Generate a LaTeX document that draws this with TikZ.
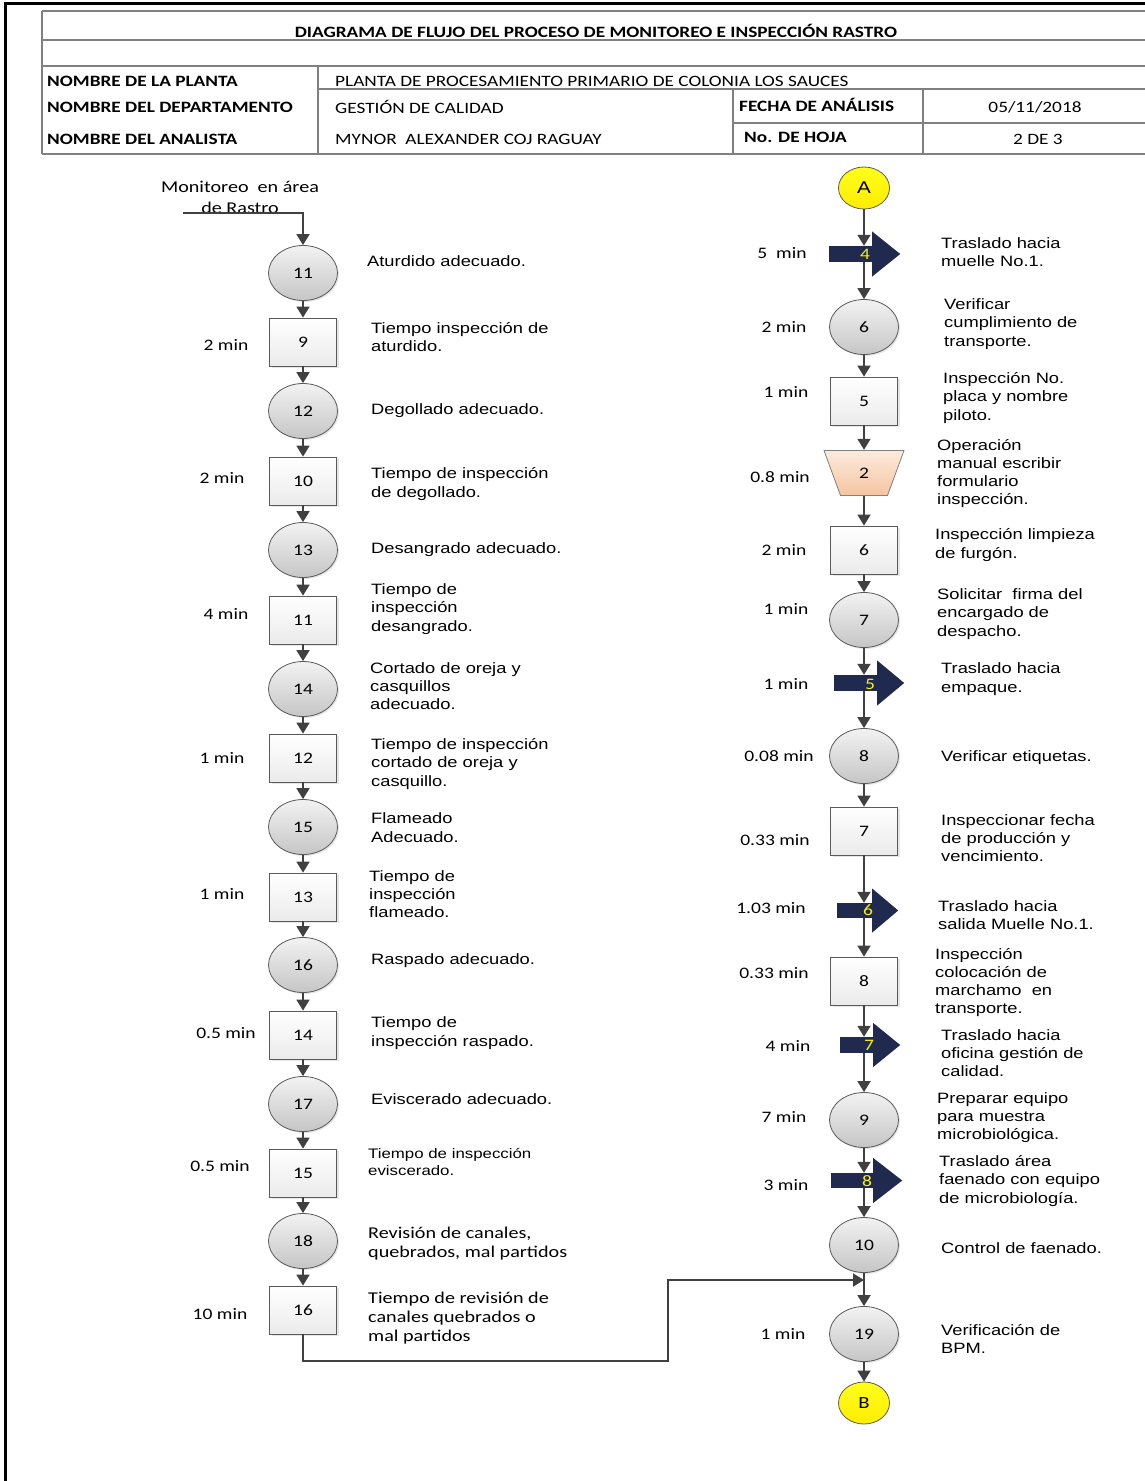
\documentclass[tikz,border=0pt]{standalone}
\usepackage{fontspec}
\usetikzlibrary{shapes.geometric,arrows.meta,shadows}
\newfontfamily\arialx[FakeStretch=1.22]{Liberation Sans}
\newfontfamily\calx[FakeStretch=1.22]{Carlito}
\definecolor{lineg}{HTML}{404040}
\definecolor{edgeg}{HTML}{5A5A5A}
\definecolor{navyb}{HTML}{1F2A4E}
\definecolor{tblg}{HTML}{808080}
\definecolor{peachT}{HTML}{FDEBDD}
\definecolor{peachB}{HTML}{F4C4A0}
% head of a block arrow fixed to the east side of its shaft node
\newcommand{\blockhead}[3]{\fill[navyb] (#1.east) ++(0,-#3) -- ++(#2,#3) -- ++(-#2,#3) -- cycle;}
\tikzset{
  flow/.style={draw=lineg, line width=1.8pt, -{Triangle[width=13pt,length=11pt]}},
  opcirc/.style={ellipse, draw=edgeg, line width=0.8pt, minimum width=69pt, minimum height=55pt,
    top color=gray!10, bottom color=gray!45, inner sep=0pt, font=\calx\fontsize{16}{18}\selectfont,
    drop shadow={shadow xshift=1.5pt, shadow yshift=-1.5pt, opacity=0.2}},
  inbox/.style={rectangle, draw=edgeg, line width=0.8pt, minimum width=67pt, minimum height=48pt,
    top color=white, bottom color=gray!16, inner sep=0pt, font=\calx\fontsize{16}{18}\selectfont,
    drop shadow={shadow xshift=2pt, shadow yshift=-2pt, opacity=0.2}},
  % manual operation: inverted trapezoid drawn inside a rectangular node
  manop/.style={rectangle, minimum width=81pt, minimum height=46pt, inner sep=0pt,
    font=\calx\fontsize{16}{18}\selectfont,
    path picture={\shade[top color=peachT, bottom color=peachB, draw=tblg, line width=0.8pt]
      ([xshift=0.5pt,yshift=-0.5pt]path picture bounding box.north west)
      -- ([xshift=-0.5pt,yshift=-0.5pt]path picture bounding box.north east)
      -- ([xshift=-17pt,yshift=0.5pt]path picture bounding box.south east)
      -- ([xshift=17pt,yshift=0.5pt]path picture bounding box.south west) -- cycle;}},
  conn/.style={ellipse, draw=edgeg, line width=0.8pt, minimum width=51pt, minimum height=42pt,
    top color=yellow!90!white, bottom color=yellow!85!orange, inner sep=0pt,
    font=\arialx\fontsize{17}{18}\selectfont},
  shaft/.style={rectangle, fill=navyb, inner sep=0pt, minimum height=16pt},
  tnum/.style={text=yellow, inner sep=0pt, font=\calx\fontsize{16}{16}\selectfont},
  desc/.style={anchor=west, align=left, inner sep=0pt, font=\arialx\fontsize{15}{18.3}\selectfont},
  descc/.style={anchor=west, align=left, inner sep=0pt, font=\calx\fontsize{16.5}{18.8}\selectfont},
  tmin/.style={inner sep=0pt, font=\calx\fontsize{16}{18}\selectfont},
  tline/.style={draw=tblg, line width=1.3pt},
  hlab/.style={anchor=west, inner sep=0pt, font=\calx\bfseries\fontsize{15.8}{17}\selectfont},
  hval/.style={inner sep=0pt, font=\calx\fontsize{15.8}{17}\selectfont},
}
\begin{document}
\begin{tikzpicture}[x=1pt,y=-1pt]
\useasboundingbox (0,0) rectangle (1145,1481);
% page frame
\draw[line width=3pt] (5,1481) -- (5,3) -- (1146,3);

% ---------- header table ----------
\draw[tline] (42,11) -- (1150,11);
\draw[tline] (42,40) -- (1150,40);
\draw[tline] (42,66) -- (1150,66);
\draw[tline] (318,89) -- (1150,89);
\draw[tline] (733,123) -- (1150,123);
\draw[tline] (42,154) -- (1150,154);
\draw[tline] (42,11) -- (42,154);
\draw[tline] (318,66) -- (318,154);
\draw[tline] (733,89) -- (733,154);
\draw[tline] (923,89) -- (923,154);
\node[hval, font=\calx\bfseries\fontsize{15.8}{17}\selectfont] (title) at (596,31) {DIAGRAMA DE FLUJO DEL PROCESO DE MONITOREO E INSPECCIÓN RASTRO};
\node[hlab] (h1) at (47,81) {NOMBRE DE LA PLANTA};
\node[hlab] (h2) at (47,107) {NOMBRE DEL DEPARTAMENTO};
\node[hlab] (h3) at (47,139) {NOMBRE DEL ANALISTA};
\node[hval, anchor=west] (v1) at (335,81) {PLANTA DE PROCESAMIENTO PRIMARIO DE COLONIA LOS SAUCES};
\node[hval, anchor=west] (v2) at (335,107) {GESTIÓN DE CALIDAD};
\node[hval, anchor=west] (v3) at (335,139) {MYNOR\ \ ALEXANDER COJ RAGUAY};
\node[hlab] (h4) at (739,105) {FECHA DE ANÁLISIS};
\node[hlab] (h5) at (744,137) {No. DE HOJA};
\node[hval] (v4) at (1035,107) {05/11/2018};
\node[hval] (v5) at (1038,139) {2 DE 3};

% ---------- left column ----------
\node[align=center, inner sep=0pt, font=\calx\fontsize{16.5}{21}\selectfont] (mon) at (240,197) {Monitoreo\ \ en área\\de Rastro};
\coordinate (st) at (183,213);
\node[opcirc] (c11) at (303,273) {11};
\node[inbox]  (b9)  at (303,342) {9};
\node[opcirc] (c12) at (303,411) {12};
\node[inbox]  (b10) at (303,481) {10};
\node[opcirc] (c13) at (303,550) {13};
\node[inbox]  (b11) at (303,620) {11};
\node[opcirc] (c14) at (303,689) {14};
\node[inbox]  (b12) at (303,758) {12};
\node[opcirc] (c15) at (303,827) {15};
\node[inbox]  (b13) at (303,897) {13};
\node[opcirc] (c16) at (303,965) {16};
\node[inbox]  (b14) at (303,1035) {14};
\node[opcirc] (c17) at (303,1104) {17};
\node[inbox]  (b15) at (303,1173) {15};
\node[opcirc] (c18) at (303,1241) {18};
\node[inbox]  (b16) at (303,1310) {16};

\draw[flow] (st) -| (c11.north);
\foreach \a/\b in {c11/b9,b9/c12,c12/b10,b10/c13,c13/b11,b11/c14,c14/b12,b12/c15,c15/b13,b13/c16,c16/b14,b14/c17,c17/b15,b15/c18,c18/b16}
  \draw[flow] (\a.south) -- (\b.north);

\node[tmin] (m9)  at (226,345) {2 min};
\node[tmin] (m10) at (222,478) {2 min};
\node[tmin] (m11) at (226,614) {4 min};
\node[tmin] (m12) at (222,758) {1 min};
\node[tmin] (m13) at (222,894) {1 min};
\node[tmin] (m14) at (226,1033) {0.5 min};
\node[tmin] (m15) at (220,1166) {0.5 min};
\node[tmin] (m16) at (220,1314) {10 min};

\node[desc] (d1)  at (367,261) {Aturdido adecuado.};
\node[desc] (d2)  at (371,337) {Tiempo inspección de\\aturdido.};
\node[desc] (d3)  at (371,411) {Degollado adecuado.};
\node[desc] (d4)  at (371,484) {Tiempo de inspección\\de degollado.};
\node[desc] (d5)  at (371,550) {Desangrado adecuado.};
\node[desc] (d6)  at (371,609) {Tiempo de\\inspección\\desangrado.};
\node[desc] (d7)  at (370,686) {Cortado de oreja y\\casquillos\\adecuado.};
\node[desc] (d8)  at (371,764) {Tiempo de inspección\\cortado de oreja y\\casquillo.};
\node[desc] (d9)  at (371,827.5) {Flameado\\Adecuado.};
\node[desc] (d10) at (369,894) {Tiempo de\\inspección\\flameado.};
\node[desc] (d11) at (371,961) {Raspado adecuado.};
\node[desc] (d12) at (371,1033) {Tiempo de\\inspección raspado.};
\node[desc] (d13) at (371,1099) {Eviscerado adecuado.};
\node[desc, font=\arialx\fontsize{13.8}{17}\selectfont] (d14) at (368,1162) {Tiempo de inspección\\eviscerado.};
\node[descc] (d15) at (368,1243.5) {Revisión de canales,\\quebrados, mal partidos};
\node[descc] (d16) at (368,1318) {Tiempo de revisión de\\canales quebrados o\\mal partidos};

% ---------- right column ----------
\node[conn] (A) at (864,188) {A};
\node[shaft, minimum width=43pt] (t4) at (850.5,254) {};
\blockhead{t4}{28}{22.5}
\node[tnum] (t4n) at (865,254) {4};
\node[opcirc] (r6)  at (864,327) {6};
\node[inbox]  (rb5) at (864,401) {5};
\node[manop]  (o2)  at (864,473) {2};
\node[inbox]  (rb6) at (864,550) {6};
\node[opcirc] (r7)  at (864,620) {7};
\node[shaft, minimum width=43pt] (t5) at (855.5,683) {};
\blockhead{t5}{27}{22.5}
\node[tnum] (t5n) at (870,684) {5};
\node[opcirc] (r8)  at (864,756) {8};
\node[inbox]  (rb7) at (864,831) {7};
\node[shaft, minimum width=35pt, minimum height=15pt] (t6) at (854.5,910.5) {};
\blockhead{t6}{26}{22}
\node[tnum] (t6n) at (868,910) {6};
\node[inbox]  (rb8) at (864,981) {8};
\node[shaft, minimum width=33pt] (t7) at (856.5,1045) {};
\blockhead{t7}{27}{22}
\node[tnum] (t7n) at (869,1045) {7};
\node[opcirc] (r9)  at (864,1120) {9};
\node[shaft, minimum width=42pt, minimum height=15pt] (t8) at (852,1180.5) {};
\blockhead{t8}{29}{22.5}
\node[tnum] (t8n) at (867,1181) {8};
\node[opcirc] (r10) at (864,1245) {10};
\node[opcirc] (r19) at (864,1334) {19};
\node[conn, font=\calx\fontsize{17}{18}\selectfont] (B) at (864,1403) {B};

\draw[flow] (A.south) -- (A.south |- t4.north);
\draw[flow] (t4.south -| r6.north) -- (r6.north);
\draw[flow] (r6.south) -- (rb5.north);
\draw[flow] (rb5.south) -- (o2.north);
\draw[flow] (o2.south) -- (rb6.north);
\draw[flow] (rb6.south) -- (r7.north);
\draw[flow] (r7.south) -- (r7.south |- t5.north);
\draw[flow] (t5.south -| r8.north) -- (r8.north);
\draw[flow] (r8.south) -- (rb7.north);
\draw[flow] (rb7.south) -- (rb7.south |- t6.north);
\draw[flow] (t6.south -| rb8.north) -- (rb8.north);
\draw[flow] (rb8.south) -- (rb8.south |- t7.north);
\draw[flow] (t7.south -| r9.north) -- (r9.north);
\draw[flow] (r9.south) -- (r9.south |- t8.north);
\draw[flow] (t8.south -| r10.north) -- (r10.north);
\draw[flow] (r10.south) -- (r19.north);
\draw[flow] (r19.south) -- (B.north);

% return path from the last inspection of the left column
\coordinate (k1) at (668,1361);
\coordinate (jn) at (864,1280);
\draw[flow] (b16.south) |- (k1) |- (jn);

\node[tmin] (n4)  at (782,253) {5\ \ min};
\node[tmin] (n6)  at (784,327) {2 min};
\node[tmin] (n5)  at (786,392) {1 min};
\node[tmin] (n2)  at (780,477) {0.8 min};
\node[tmin] (n6b) at (784,550) {2 min};
\node[tmin] (n7)  at (786,609) {1 min};
\node[tmin] (n5b) at (786,684) {1 min};
\node[tmin] (n8)  at (779,756) {0.08 min};
\node[tmin] (n7b) at (775,840) {0.33 min};
\node[tmin] (n6c) at (771,908) {1.03 min};
\node[tmin] (n8b) at (774,973) {0.33 min};
\node[tmin] (n7c) at (788,1046) {4 min};
\node[tmin] (n9)  at (784,1117) {7 min};
\node[tmin] (n8c) at (786,1185) {3 min};
\node[tmin] (n19) at (783,1334) {1 min};

\node[desc] (e1)  at (941,252) {Traslado hacia\\muelle No.1.};
\node[desc] (e2)  at (944,324) {Verificar\\cumplimiento de\\transporte.};
\node[desc] (e3)  at (943,398) {Inspección No.\\placa y nombre\\piloto.};
\node[desc] (e4)  at (937,473.5) {Operación\\manual escribir\\formulario\\inspección.};
\node[desc] (e5)  at (935,545) {Inspección limpieza\\de furgón.};
\node[desc] (e6)  at (937,614) {Solicitar\ \ firma del\\encargado de\\despacho.};
\node[desc] (e7)  at (941,679) {Traslado hacia\\empaque.};
\node[desc] (e8)  at (941,758) {Verificar etiquetas.};
\node[desc] (e9)  at (941,838) {Inspeccionar fecha\\de producción y\\vencimiento.};
\node[desc] (e10) at (938,915) {Traslado hacia\\salida Muelle No.1.};
\node[desc] (e11) at (935,982.5) {Inspección\\colocación de\\marchamo\ \ en\\transporte.};
\node[desc] (e12) at (941,1053) {Traslado hacia\\oficina gestión de\\calidad.};
\node[desc] (e13) at (937,1117.5) {Preparar equipo\\para muestra\\microbiológica.};
\node[desc] (e14) at (939,1181) {Traslado área\\faenado con equipo\\de microbiología.};
\node[desc] (e15) at (941,1248) {Control de faenado.};
\node[desc] (e16) at (941,1339) {Verificación de\\BPM.};
\end{tikzpicture}
\end{document}
